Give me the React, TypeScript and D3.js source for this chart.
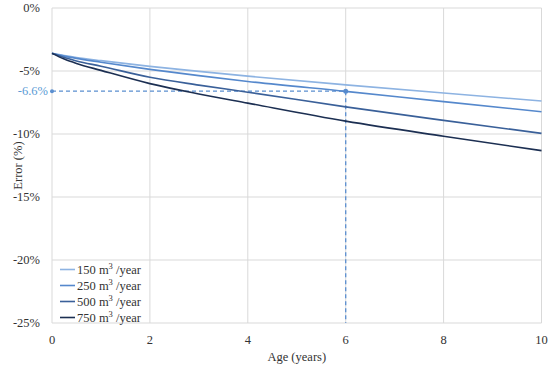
import { useEffect, useRef } from "react";
import * as d3 from "d3";

const ages = [0, 0.25, 0.5, 1, 2, 3, 4, 6, 8, 10];
const err150 = [-3.6, -3.78, -3.93, -4.18, -4.63, -5.03, -5.41, -6.1, -6.75, -7.38];
const err250 = [-3.6, -3.82, -4.0, -4.3, -4.87, -5.37, -5.83, -6.62, -7.43, -8.23];
const err500 = [-3.6, -3.93, -4.2, -4.62, -5.5, -6.12, -6.68, -7.85, -8.92, -9.95];
const err750 = [-3.6, -4.05, -4.4, -4.95, -6.0, -6.82, -7.55, -8.98, -10.18, -11.32];
const seriesNames = ["150", "250", "500", "750"];
const seriesColors = ["#8db3e2", "#5588cc", "#3a6099", "#1c2f52"];
const xTicks = [0, 2, 4, 6, 8, 10];
const yTicks = [0, -5, -10, -15, -20, -25];
const markAge = 6;
const markErr = -6.6;

export default function App() {
  const svgRef = useRef<SVGSVGElement | null>(null);

  useEffect(() => {
    if (!svgRef.current) return;
    const svg = d3.select(svgRef.current);
    svg.selectAll("*").remove();

    const left = 52, right = 541.5, top = 8, bottom = 323;
    const x = d3.scaleLinear().domain([0, 10]).range([left, right]);
    const y = d3.scaleLinear().domain([0, -25]).range([top, bottom]);
    const font = "Liberation Serif, DejaVu Serif, Times New Roman, serif";

    // grid
    const grid = svg.append("g");
    yTicks.forEach((t) => {
      grid.append("line")
        .attr("x1", left).attr("x2", right)
        .attr("y1", y(t)).attr("y2", y(t))
        .attr("stroke", "#d9d9d9").attr("stroke-width", 1);
    });
    xTicks.forEach((t) => {
      grid.append("line")
        .attr("x1", x(t)).attr("x2", x(t))
        .attr("y1", top).attr("y2", bottom)
        .attr("stroke", "#d9d9d9").attr("stroke-width", 1);
    });

    const txt = (sel: any) =>
      sel.style("font-family", font).attr("font-size", 12.5).attr("fill", "#333");

    // tick labels
    yTicks.forEach((t) => {
      txt(svg.append("text"))
        .attr("x", 40).attr("y", y(t) + 4)
        .attr("text-anchor", "end")
        .text(t + "%");
    });
    xTicks.forEach((t) => {
      txt(svg.append("text"))
        .attr("x", x(t)).attr("y", 344)
        .attr("text-anchor", "middle")
        .text(t);
    });

    txt(svg.append("text"))
      .attr("x", (left + right) / 2).attr("y", 361)
      .attr("text-anchor", "middle")
      .text("Age (years)");
    txt(svg.append("text"))
      .attr("transform", `translate(22,${(top + bottom) / 2}) rotate(-90)`)
      .attr("text-anchor", "middle")
      .text("Error (%)");

    // dashed annotation
    const dash = "#5b8fd0";
    svg.append("line")
      .attr("x1", x(0)).attr("x2", x(markAge))
      .attr("y1", y(markErr)).attr("y2", y(markErr))
      .attr("stroke", dash).attr("stroke-width", 1.3).attr("stroke-dasharray", "4,3");
    svg.append("line")
      .attr("x1", x(markAge)).attr("x2", x(markAge))
      .attr("y1", y(markErr)).attr("y2", bottom)
      .attr("stroke", dash).attr("stroke-width", 1.3).attr("stroke-dasharray", "4,3");
    svg.append("circle").attr("cx", x(0)).attr("cy", y(markErr)).attr("r", 2).attr("fill", dash);
    svg.append("circle").attr("cx", x(markAge)).attr("cy", y(markErr)).attr("r", 2.5).attr("fill", dash);
    txt(svg.append("text"))
      .attr("x", 48).attr("y", y(markErr) + 4)
      .attr("text-anchor", "end")
      .attr("fill", "#5b9bd5")
      .text(markErr + "%");

    // series
    const all = [err150, err250, err500, err750];
    const line = d3.line<number>()
      .x((_, i) => x(ages[i]))
      .y((d) => y(d))
      .curve(d3.curveMonotoneX);
    all.forEach((vals, k) => {
      svg.append("path")
        .attr("d", line(vals))
        .attr("fill", "none")
        .attr("stroke", seriesColors[k])
        .attr("stroke-width", 1.6);
    });

    // legend
    const lg = svg.append("g");
    lg.append("rect").attr("x", 54).attr("y", 261).attr("width", 86).attr("height", 61).attr("fill", "#fff");
    seriesNames.forEach((n, k) => {
      const ly = 269.5 + k * 16;
      lg.append("line")
        .attr("x1", 60).attr("x2", 75)
        .attr("y1", ly).attr("y2", ly)
        .attr("stroke", seriesColors[k]).attr("stroke-width", 1.6);
      const t = txt(lg.append("text"))
        .attr("x", 77).attr("y", ly + 4);
      t.append("tspan").text(n + " m");
      t.append("tspan").attr("dy", -5).attr("font-size", 8.5).text("3");
      t.append("tspan").attr("dy", 5).text(" /year");
    });
  }, []);

  return (
    <svg
      ref={svgRef}
      width={550}
      height={367}
      style={{ position: "absolute", left: 0, top: 0, background: "#fff" }}
    />
  );
}
